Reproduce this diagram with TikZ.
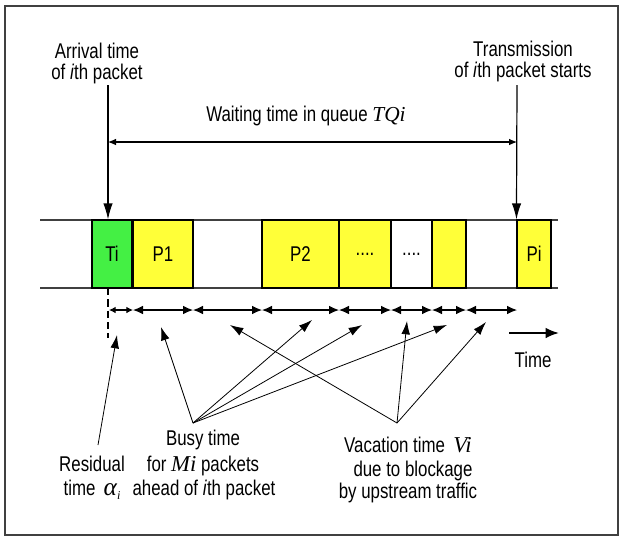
\documentclass[tikz,border=0pt]{standalone}
\usepackage{fontspec}
\setmainfont[FakeStretch=0.79]{Liberation Sans}
\newfontfamily\tim{Liberation Serif}
\usetikzlibrary{arrows.meta}
\definecolor{pgreen}{HTML}{44F044}
\definecolor{pyellow}{HTML}{FFFF38}
\begin{document}
\begin{tikzpicture}[x=0.75pt,y=-0.75pt,
  lbl/.style={font=\fontsize{16}{17}\selectfont, inner sep=0pt, anchor=base},
  pkt/.style={draw=black, line width=0.8pt, minimum height=51pt, inner sep=0pt,
    font=\fontsize{16}{17}\selectfont},
  bigarr/.style={line width=0.9pt, -{Latex[length=12pt,width=7pt]}},
  seg/.style={line width=0.8pt, {Latex[length=7.5pt,width=6.5pt]}-{Latex[length=7.5pt,width=6.5pt]}},
  segs/.style={line width=0.8pt, {Latex[length=5pt,width=5pt]}-{Latex[length=5pt,width=5pt]}},
  ann/.style={line width=0.6pt, -{Latex[length=10pt,width=6.5pt]}},
  stripline/.style={line width=0.8pt, draw=black!75}
]
\useasboundingbox (0,0) rectangle (620,536);
\draw[line width=1.4pt, draw=black!75] (5,6) rectangle (618,535);

% strip
\coordinate (sl1) at (40,220); \coordinate (sr1) at (558,220);
\coordinate (sl2) at (40,288); \coordinate (sr2) at (558,288);
\draw[stripline] (sl1) -- (sr1);
\draw[stripline] (sl2) -- (sr2);

% packets
\node[pkt, fill=pgreen, minimum width=30pt] (ti) at (112,254) {Ti};
\node[pkt, fill=pyellow, minimum width=45pt, line width=1.3pt] (p1) at (163,254) {P1};
\node[pkt, fill=pyellow, minimum width=57.75pt] (p2) at (300.5,254) {P2};
\node[pkt, fill=pyellow, minimum width=39pt] (d1) at (365,254) {....};
\node[pkt, fill=white, minimum width=30.75pt] (d2) at (411.5,254) {....};
\node[pkt, fill=pyellow, minimum width=25.5pt] (y3) at (449,254) {};
\node[pkt, fill=pyellow, minimum width=25.5pt] (pi) at (534,254) {Pi};

% top labels
\node[lbl] (arr1) at (97,58) {Arrival time};
\node[lbl] (arr2) at (97,79) {of \textit{i}th packet};
\node[lbl] (tr1) at (523,56) {Transmission};
\node[lbl] (tr2) at (523,77) {of \textit{i}th packet starts};
\node[lbl, anchor=base west] (wait) at (206,121) {Waiting time in queue {\tim\itshape TQi}};

\coordinate (ta) at (108,85);
\coordinate (tb) at (517,85);
\draw[bigarr] (ta) -- (ta |- ti.north);
\draw[bigarr] (tb) -- (pi.north west);
\coordinate (wa) at (108,142);
\coordinate (wb) at (517,142);
\draw[line width=0.8pt, {Latex[length=6pt,width=5pt]}-{Latex[length=6pt,width=5pt]}] (wa) -- (wb);

% dashed residual marker
\coordinate (dtop) at (108,288);
\coordinate (dbot) at (108,338);
\draw[line width=1.8pt, dash pattern=on 5.5pt off 3pt] (dtop) -- (dbot);

% segment arrows
\foreach \a/\b [count=\k] in {109/133,133/193,193/262,262/339,339/391,391/432,432/466,466/517}{
  \coordinate (s\k a) at (\a,310);
  \coordinate (s\k b) at (\b,310);
}
\draw[segs] (s1a) -- (s1b);
\foreach \k in {2,...,8}{ \draw[seg] (s\k a) -- (s\k b); }

% time arrow
\coordinate (tm1) at (509,333);
\coordinate (tm2) at (559,333);
\draw[line width=1.6pt, -{Latex[length=10pt,width=8pt]}] (tm1) -- (tm2);
\node[lbl] (time) at (533,367) {Time};

% annotation origins and tips
\coordinate (res) at (98,445);
\coordinate (busy) at (193,423);
\coordinate (vac) at (397,423);
\coordinate (rt) at (117,335);
\coordinate (b1) at (161,327);
\coordinate (b2) at (312,320);
\coordinate (b3) at (362,325);
\coordinate (b4) at (447,325);
\coordinate (v1) at (230,325);
\coordinate (v2) at (407,321);
\coordinate (v3) at (486,322);
\draw[ann] (res) -- (rt);
\foreach \t in {b1,b2,b3,b4}{ \draw[ann] (busy) -- (\t); }
\foreach \t in {v1,v2,v3}{ \draw[ann] (vac) -- (\t); }

% bottom labels
\node[lbl] (r1) at (92,471) {Residual};
\node[lbl] (r2) at (92,495) {time\, {\tim\itshape\fontsize{19}{19}\selectfont α}\raisebox{-3pt}{\tim\itshape\fontsize{9}{10}\selectfont i}};
\node[lbl] (bu1) at (203,445) {Busy time};
\node[lbl] (bu2) at (203,471) {for {\tim\itshape\fontsize{17}{17}\selectfont Mi} packets};
\node[lbl] (bu3) at (204,495) {ahead of \textit{i}th packet};
\node[lbl] (va1) at (408,452) {Vacation time\, {\tim\itshape\fontsize{17}{17}\selectfont Vi}};
\node[lbl] (va2) at (413,476) {due to blockage};
\node[lbl] (va3) at (408,498) {by upstream traffic};
\end{tikzpicture}
\end{document}
